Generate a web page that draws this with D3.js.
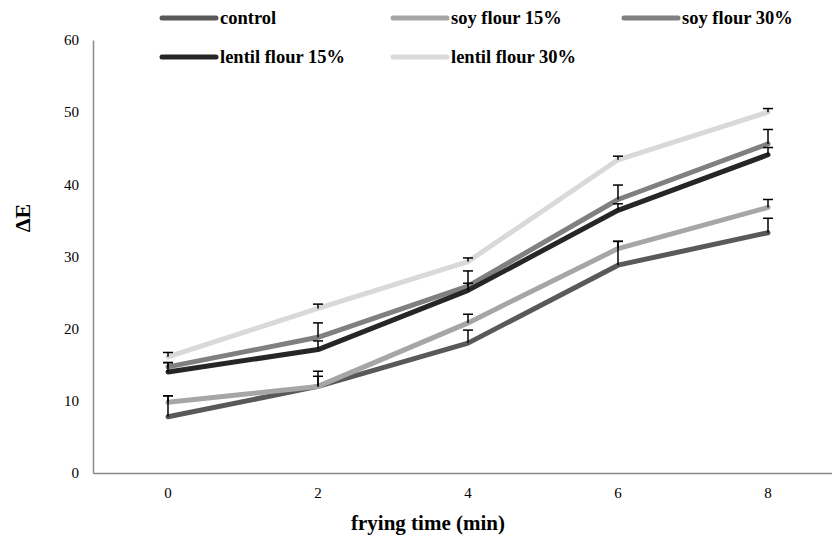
<!DOCTYPE html>
<html><head><meta charset="utf-8">
<script src="https://cdn.jsdelivr.net/npm/d3@7"></script>
<style>body{margin:0;background:#fff}svg{display:block}svg text{font-family:'Liberation Serif','Times New Roman',serif}</style>
</head><body><svg id="c" width="832" height="538"></svg>
<script>
const categories = ["0","2","4","6","8"];
const seriesNames = ["control","soy flour 15%","soy flour 30%","lentil flour 15%","lentil flour 30%"];
const control   = [7.8, 12.0, 18.0, 28.8, 33.3];
const soy15     = [9.8, 12.0, 20.8, 31.1, 36.8];
const soy30     = [14.7, 18.8, 25.9, 37.9, 45.6];
const lentil15  = [14.0, 17.1, 25.3, 36.4, 44.1];
const lentil30  = [16.1, 22.8, 29.3, 43.4, 50.0];
const controlErr  = [2.9, 1.4, 1.8, 3.3, 2.0];
const soy15Err    = [0.9, 2.1, 1.2, 1.0, 1.1];
const soy30Err    = [0.6, 2.0, 2.1, 2.0, 2.0];
const lentil15Err = [1.3, 1.2, 1.0, 0.9, 1.0];
const lentil30Err = [0.6, 0.6, 0.5, 0.5, 0.5];
const yTicks = [0,10,20,30,40,50,60];
const colors = ["#595959","#a6a6a6","#808080","#262626","#d9d9d9"];

const values = [control, soy15, soy30, lentil15, lentil30];
const errs = [controlErr, soy15Err, soy30Err, lentil15Err, lentil30Err];
const series = seriesNames.map((n,i)=>({name:n,color:colors[i],vals:values[i],err:errs[i]}));

const svg = d3.select("#c");
const x = d3.scaleBand().domain(categories).range([93,843]);
const y = d3.scaleLinear().domain([0,60]).range([473,40]);
const cx = c => x(c) + x.bandwidth()/2;
const FF = "'Liberation Serif','Times New Roman',serif";

// axes
const yAxis = d3.axisLeft(y).tickValues(yTicks).tickSize(0).tickPadding(14);
const gy = svg.append("g").attr("transform","translate(93,0)").call(yAxis);
gy.attr("font-family",null);
gy.select(".domain").attr("stroke","#898989").attr("stroke-width",1.5);
gy.selectAll("text").style("font-family",FF).style("font-size","15px").attr("fill","#000");

const xAxis = d3.axisBottom(x).tickSize(0).tickPadding(14);
const gx = svg.append("g").attr("transform","translate(0,473)").call(xAxis);
gx.attr("font-family",null);
gx.select(".domain").attr("stroke","#898989").attr("stroke-width",1.5);
gx.selectAll("text").style("font-family",FF).style("font-size","15px").attr("fill","#000");

// lines
const line = d3.line().x((d,i)=>cx(categories[i])).y(d=>y(d));
svg.append("g").selectAll("path").data(series).join("path")
  .attr("d",d=>line(d.vals)).attr("fill","none").attr("stroke",d=>d.color)
  .attr("stroke-width",5).attr("stroke-linejoin","round").attr("stroke-linecap","round");

// error bars (plus only)
const eb = svg.append("g").attr("stroke","#000").attr("stroke-width",1.5);
series.forEach(s=>{
  s.vals.forEach((v,i)=>{
    const px = cx(categories[i]);
    eb.append("line").attr("x1",px).attr("x2",px).attr("y1",y(v)).attr("y2",y(v+s.err[i]));
    eb.append("line").attr("x1",px-5).attr("x2",px+5).attr("y1",y(v+s.err[i])).attr("y2",y(v+s.err[i]));
  });
});

// axis titles
svg.append("text").attr("x",428).attr("y",530).attr("text-anchor","middle")
  .style("font-family",FF).style("font-weight","bold").style("font-size","21px").text("frying time (min)");
svg.append("text").attr("transform","translate(30,218) rotate(-90)").attr("text-anchor","middle")
  .style("font-family",FF).style("font-weight","bold").style("font-size","22px").text("ΔE");

// legend
const legPos = [[162,18],[393,18],[624,18],[162,57],[393,57]];
const lg = svg.append("g").selectAll("g").data(series).join("g")
  .attr("transform",(d,i)=>`translate(${legPos[i][0]},${legPos[i][1]})`);
lg.append("line").attr("x1",0).attr("x2",54).attr("y1",0).attr("y2",0)
  .attr("stroke",d=>d.color).attr("stroke-width",5).attr("stroke-linecap","round");
lg.append("text").attr("x",58).attr("y",6).style("font-family",FF)
  .style("font-weight","bold").style("font-size","18.5px").text(d=>d.name);
</script></body></html>
